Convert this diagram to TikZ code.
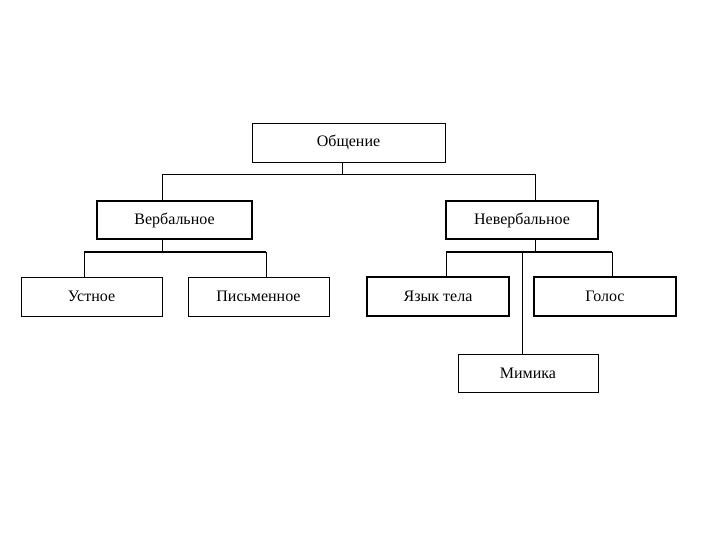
\documentclass[tikz,border=0pt]{standalone}
\usepackage{fontspec}
\setmainfont{Liberation Serif}
\usetikzlibrary{calc}
\tikzset{cell/.style={draw=black,line width=0.8pt,minimum height=38pt,inner sep=0pt,font=\fontsize{16}{18}\selectfont},
  cellbold/.style={cell,line width=1.8pt},
  link/.style={draw=black,line width=0.8pt},
  bar/.style={draw=black,line width=1.5pt}}
\begin{document}
\begin{tikzpicture}[x=1pt,y=-1pt]
  \useasboundingbox (0,0) rectangle (720,540);
  \node[cell,minimum width=193pt,minimum height=39pt] (obsh) at (348.5,142.5) {Общение};
  \node[cellbold,minimum width=155pt] (verb) at (174.5,220) {Вербальное};
  \node[cellbold,minimum width=152pt] (neverb) at (522,220) {Невербальное};
  \node[cell,minimum width=141pt,minimum height=39pt] (ustn) at (91.5,296.5) {Устное};
  \node[cell,minimum width=141pt,minimum height=39pt] (pism) at (258.5,296.5) {Письменное};
  \node[cellbold,minimum width=142pt,minimum height=39pt] (yazyk) at (438,296.5) {Язык тела};
  \node[cellbold,minimum width=142pt,minimum height=39pt] (golos) at (605,296.5) {Голос};
  \node[cell,minimum width=140pt] (mimika) at (528,373) {Мимика};
  % first level
  \coordinate (xo) at (342,174);
  \coordinate (xv) at (162,174);
  \coordinate (xn) at (535,174);
  \draw[link] (obsh.south -| xo) -- (xo);
  \draw[link] (verb.north -| xv) |- (xn) -- (neverb.north -| xn);
  % verbal
  \coordinate (bv) at (162,252);
  \coordinate (xu) at (84,252);
  \coordinate (xp) at (266,252);
  \draw[link] (verb.south -| bv) -- (bv);
  \draw[link] (ustn.north -| xu) -- (xu);
  \draw[link] (pism.north -| xp) -- (xp);
  \draw[bar] (xu) -- (xp);
  % nonverbal
  \coordinate (bn) at (535,252);
  \coordinate (xy) at (446,252);
  \coordinate (xg) at (612,252);
  \coordinate (xm) at (522,252);
  \draw[link] (neverb.south -| bn) -- (bn);
  \draw[link] (yazyk.north -| xy) -- (xy);
  \draw[link] (golos.north -| xg) -- (xg);
  \draw[bar] (xy) -- (xg);
  \draw[link] (xm) -- (mimika.north -| xm);
\end{tikzpicture}
\end{document}
